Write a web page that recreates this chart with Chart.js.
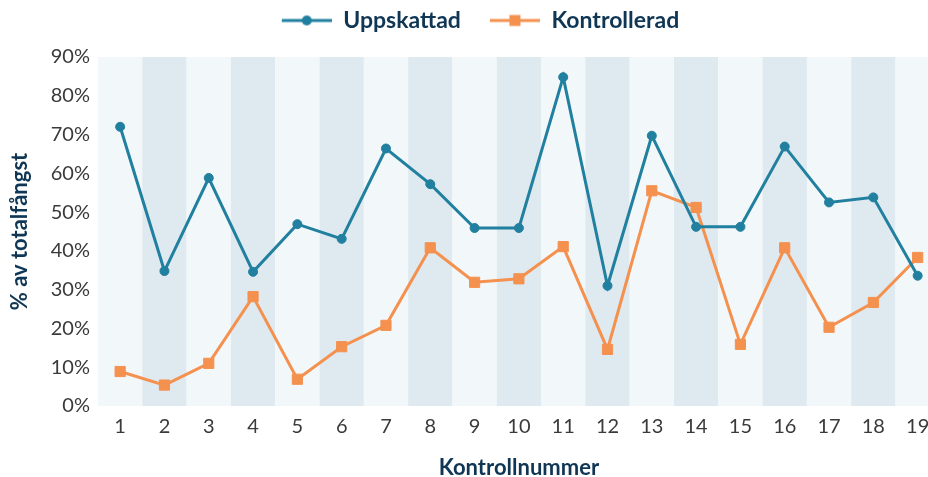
<!DOCTYPE html>
<html>
<head>
<meta charset="utf-8">
<script src="https://cdn.jsdelivr.net/npm/chart.js@4.4.1/dist/chart.umd.min.js"></script>
<style>
    html, body { margin: 0; padding: 0; background: #fff; overflow: hidden; }
    #wrap { width: 928px; height: 477px; overflow: hidden; }
    #inner { width: 948px; height: 477px; position: relative; }
</style>
</head>
<body>
<div id="wrap"><div id="inner"><canvas id="chart"></canvas></div></div>
<script>
const kontrollnummer = ['1', '2', '3', '4', '5', '6', '7', '8', '9', '10', '11', '12', '13', '14', '15', '16', '17', '18', '19'];
const uppskattad = [72, 34.8, 58.8, 34.6, 46.9, 43.1, 66.4, 57.2, 45.9, 45.9, 84.8, 31, 69.7, 46.2, 46.2, 66.9, 52.5, 53.8, 33.6];
const kontrollerad = [8.9, 5.4, 11, 28.2, 6.9, 15.3, 20.8, 40.8, 31.9, 32.8, 41.1, 14.6, 55.5, 51.2, 15.9, 40.8, 20.3, 26.7, 38.3];
const yMax = 90;
const yStep = 10;

const BLUE = '#21809f';
const ORANGE = '#f4914f';
const NAVY = '#0f3654';
const TICK = '#3a3a3a';
const FONT = "'Lato', 'DejaVu Sans', sans-serif";

// legend symbol: line with marker on it (blank space on the left gives the gap between items)
const legendSymbol = (color, shape) => {
    const c = document.createElement('canvas');
    c.width = 70;
    c.height = 14;
    const g = c.getContext('2d');
    g.strokeStyle = color;
    g.lineWidth = 3;
    g.beginPath();
    g.moveTo(20, 7);
    g.lineTo(70, 7);
    g.stroke();
    g.fillStyle = color;
    if (shape === 'circle') {
        g.beginPath();
        g.arc(45, 7, 5, 0, Math.PI * 2);
        g.fill();
    } else {
        g.fillRect(39.5, 1.5, 11, 11);
    }
    return c;
};

const bandPlugin = {
    id: 'bands',
    beforeDatasetsDraw(chart) {
        const { ctx, chartArea, scales: { x } } = chart;
        const n = kontrollnummer.length;
        const w = (x.right - x.left) / n;
        ctx.save();
        for (let i = 0; i < n; i++) {
            const cx = x.getPixelForValue(i);
            ctx.fillStyle = i % 2 === 0 ? '#f2f7fa' : '#dfe9f0';
            ctx.fillRect(cx - w / 2, chartArea.top, w, chartArea.bottom - chartArea.top);
        }
        ctx.restore();
    }
};

// give the legend a fixed height so the plot starts lower
const legendHeightPlugin = {
    id: 'legendHeight',
    beforeLayout(chart) {
        const legend = chart.legend;
        if (!legend || legend._patched) return;
        const origFit = legend.fit;
        legend.fit = function () {
            origFit.call(this);
            this.height = 57;
        };
        legend._patched = true;
    }
};

const ctx = document.getElementById('chart');

new Chart(ctx, {
    type: 'line',
    data: {
        labels: kontrollnummer,
        datasets: [
            {
                label: 'Uppskattad',
                data: uppskattad,
                borderColor: BLUE,
                backgroundColor: BLUE,
                borderWidth: 3,
                pointStyle: 'circle',
                pointRadius: 4.5,
                pointBorderWidth: 1,
                tension: 0
            },
            {
                label: 'Kontrollerad',
                data: kontrollerad,
                borderColor: ORANGE,
                backgroundColor: ORANGE,
                borderWidth: 3,
                pointStyle: 'rect',
                pointRadius: 7.2,
                pointBorderWidth: 1,
                tension: 0
            }
        ]
    },
    options: {
        responsive: true,
        maintainAspectRatio: false,
        animation: false,
        layout: { padding: { left: 0, right: 7, top: 0, bottom: 0 } },
        plugins: {
            tooltip: { enabled: false },
            legend: {
                position: 'top',
                labels: {
                    usePointStyle: true,
                    pointStyleWidth: 70,
                    padding: 9,
                    color: NAVY,
                    font: { family: FONT, size: 23, weight: 'bold' },
                    generateLabels: () => [
                        { text: 'Uppskattad', pointStyle: legendSymbol(BLUE, 'circle'), fontColor: NAVY, lineWidth: 0, datasetIndex: 0 },
                        { text: 'Kontrollerad', pointStyle: legendSymbol(ORANGE, 'rect'), fontColor: NAVY, lineWidth: 0, datasetIndex: 1 }
                    ]
                }
            }
        },
        scales: {
            x: {
                offset: true,
                grid: { display: false, drawTicks: false },
                border: { display: false },
                ticks: { color: TICK, padding: 9, font: { family: FONT, size: 20 }, maxRotation: 0, autoSkip: false },
                title: {
                    display: true,
                    text: 'Kontrollnummer',
                    color: NAVY,
                    font: { family: FONT, size: 22, weight: 'bold', lineHeight: 0.8 },
                    padding: { top: 0, bottom: 0 }
                },
                afterFit: (scale) => { scale.height = 71; }
            },
            y: {
                min: 0,
                max: yMax,
                grid: { display: false, drawTicks: false },
                border: { display: false },
                ticks: {
                    stepSize: yStep,
                    color: TICK,
                    padding: 8,
                    font: { family: FONT, size: 20 },
                    callback: (v) => v + '%'
                },
                title: {
                    display: true,
                    text: '% av totalfångst',
                    color: NAVY,
                    font: { family: FONT, size: 22, weight: 'bold', lineHeight: 1 },
                    padding: { top: 9, bottom: 0 }
                },
                afterFit: (scale) => { scale.width = 98; }
            }
        }
    },
    plugins: [bandPlugin, legendHeightPlugin]
});
</script>
</body>
</html>
